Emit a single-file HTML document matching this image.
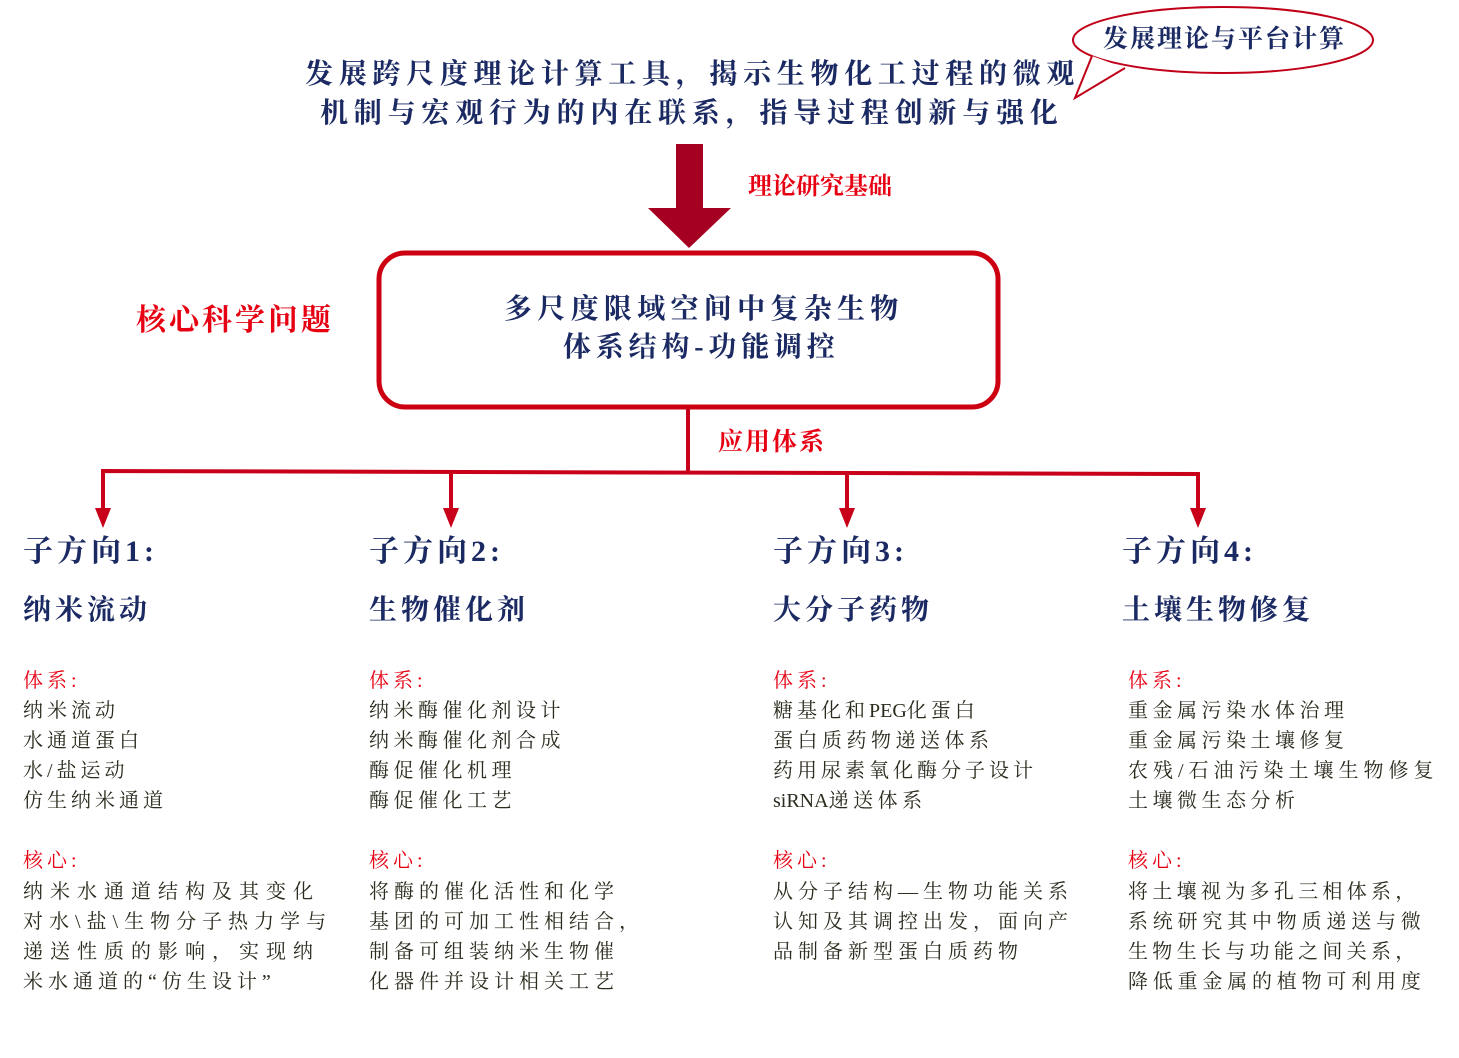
<!DOCTYPE html>
<html><head><meta charset="utf-8"><style>
body{margin:0;width:1459px;height:1058px;background:#fff;position:relative;overflow:hidden;font-family:"Liberation Serif","Noto Serif CJK SC",serif}
.t{position:absolute;white-space:nowrap;line-height:1}
.nv{color:#1b2a63;font-weight:bold}
.rd{color:#e60012}
.tx{color:#2b2b1e;font-size:20px}
.l{letter-spacing:0}
</style></head><body>
<svg width="1459" height="1058" style="position:absolute;left:0;top:0">
<ellipse cx="1223" cy="40" rx="150" ry="33" fill="#fff" stroke="#c00018" stroke-width="2"/>
<polygon points="1092,56 1075,98 1125,68" fill="#fff"/>
<polyline points="1092,56 1075,98 1125,68" fill="none" stroke="#c00018" stroke-width="2"/>
<rect x="676" y="144" width="27" height="66" fill="#a50021"/>
<polygon points="648,208 731,208 689,248" fill="#a50021"/>
<rect x="379" y="253" width="619" height="154" rx="26" fill="none" stroke="#cc0010" stroke-width="5"/>
<g stroke="#c8001a" stroke-width="4" fill="none">
<line x1="688" y1="408" x2="688" y2="471"/>
<polyline points="103,510 103,471 1198,474 1198,510"/>
<line x1="451" y1="472" x2="451" y2="510"/>
<line x1="847" y1="473" x2="847" y2="510"/>
</g>
<g fill="#c8001a">
<polygon points="95,508 111,508 103,528"/>
<polygon points="443,508 459,508 451,528"/>
<polygon points="839,508 855,508 847,528"/>
<polygon points="1190,508 1206,508 1198,528"/>
</g>
</svg>
<div class="t nv" style="left:1103px;top:27px;font-size:25px;letter-spacing:2px">发展理论与平台计算</div>
<div class="t nv" style="left:305px;top:61px;font-size:28px;letter-spacing:5.7px">发展跨尺度理论计算工具，揭示生物化工过程的微观</div>
<div class="t nv" style="left:320px;top:100px;font-size:28px;letter-spacing:5.8px">机制与宏观行为的内在联系，指导过程创新与强化</div>
<div class="t rd" style="left:748px;top:175px;font-size:24px;font-weight:bold">理论研究基础</div>
<div class="t rd" style="left:136px;top:306px;font-size:30px;font-weight:bold;letter-spacing:3px">核心科学问题</div>
<div class="t nv" style="left:504px;top:296px;font-size:28px;letter-spacing:5.3px">多尺度限域空间中复杂生物</div>
<div class="t nv" style="left:563px;top:334px;font-size:28px;letter-spacing:4.8px">体系结构-功能调控</div>
<div class="t rd" style="left:718px;top:430px;font-size:25px;font-weight:bold;letter-spacing:2px">应用体系</div>

<div class="t nv" style="left:23px;top:537px;font-size:30px;letter-spacing:4px">子方向1:</div>
<div class="t nv" style="left:23px;top:597px;font-size:28px;letter-spacing:4px">纳米流动</div>
<div class="t rd" style="left:23px;top:671px;font-size:20px;letter-spacing:4px">体系:</div>
<div class="t tx" style="left:23px;top:701px;letter-spacing:4px">纳米流动</div>
<div class="t tx" style="left:23px;top:731px;letter-spacing:4px">水通道蛋白</div>
<div class="t tx" style="left:23px;top:761px;letter-spacing:4px">水/盐运动</div>
<div class="t tx" style="left:23px;top:791px;letter-spacing:4px">仿生纳米通道</div>
<div class="t rd" style="left:23px;top:851px;font-size:20px;letter-spacing:4px">核心:</div>
<div class="t tx" style="left:23px;top:882px;letter-spacing:7px">纳米水通道结构及其变化</div>
<div class="t tx" style="left:23px;top:912px;letter-spacing:6px">对水\盐\生物分子热力学与</div>
<div class="t tx" style="left:23px;top:942px;letter-spacing:7px">递送性质的影响，实现纳</div>
<div class="t tx" style="left:23px;top:972px;letter-spacing:5px">米水通道的“仿生设计”</div>

<div class="t nv" style="left:369px;top:537px;font-size:30px;letter-spacing:4px">子方向2:</div>
<div class="t nv" style="left:369px;top:597px;font-size:28px;letter-spacing:4px">生物催化剂</div>
<div class="t rd" style="left:369px;top:671px;font-size:20px;letter-spacing:4px">体系:</div>
<div class="t tx" style="left:369px;top:701px;letter-spacing:4.5px">纳米酶催化剂设计</div>
<div class="t tx" style="left:369px;top:731px;letter-spacing:4.5px">纳米酶催化剂合成</div>
<div class="t tx" style="left:369px;top:761px;letter-spacing:4.5px">酶促催化机理</div>
<div class="t tx" style="left:369px;top:791px;letter-spacing:4.5px">酶促催化工艺</div>
<div class="t rd" style="left:369px;top:851px;font-size:20px;letter-spacing:4px">核心:</div>
<div class="t tx" style="left:369px;top:882px;letter-spacing:5px">将酶的催化活性和化学</div>
<div class="t tx" style="left:369px;top:912px;letter-spacing:5px">基团的可加工性相结合，</div>
<div class="t tx" style="left:369px;top:942px;letter-spacing:5px">制备可组装纳米生物催</div>
<div class="t tx" style="left:369px;top:972px;letter-spacing:5px">化器件并设计相关工艺</div>

<div class="t nv" style="left:773px;top:537px;font-size:30px;letter-spacing:4px">子方向3:</div>
<div class="t nv" style="left:773px;top:597px;font-size:28px;letter-spacing:4px">大分子药物</div>
<div class="t rd" style="left:773px;top:671px;font-size:20px;letter-spacing:4px">体系:</div>
<div class="t tx" style="left:773px;top:701px;letter-spacing:4px">糖基化和<span class="l">PEG</span>化蛋白</div>
<div class="t tx" style="left:773px;top:731px;letter-spacing:4.5px">蛋白质药物递送体系</div>
<div class="t tx" style="left:773px;top:761px;letter-spacing:4px">药用尿素氧化酶分子设计</div>
<div class="t tx" style="left:773px;top:791px;letter-spacing:4.5px"><span class="l">siRNA</span>递送体系</div>
<div class="t rd" style="left:773px;top:851px;font-size:20px;letter-spacing:4px">核心:</div>
<div class="t tx" style="left:773px;top:882px;letter-spacing:5px">从分子结构—生物功能关系</div>
<div class="t tx" style="left:773px;top:912px;letter-spacing:5px">认知及其调控出发，面向产</div>
<div class="t tx" style="left:773px;top:942px;letter-spacing:5px">品制备新型蛋白质药物</div>

<div class="t nv" style="left:1122px;top:537px;font-size:30px;letter-spacing:4px">子方向4:</div>
<div class="t nv" style="left:1122px;top:597px;font-size:28px;letter-spacing:4px">土壤生物修复</div>
<div class="t rd" style="left:1128px;top:671px;font-size:20px;letter-spacing:4px">体系:</div>
<div class="t tx" style="left:1128px;top:701px;letter-spacing:4.5px">重金属污染水体治理</div>
<div class="t tx" style="left:1128px;top:731px;letter-spacing:4.5px">重金属污染土壤修复</div>
<div class="t tx" style="left:1128px;top:761px;letter-spacing:5px">农残/石油污染土壤生物修复</div>
<div class="t tx" style="left:1128px;top:791px;letter-spacing:4.5px">土壤微生态分析</div>
<div class="t rd" style="left:1128px;top:851px;font-size:20px;letter-spacing:4px">核心:</div>
<div class="t tx" style="left:1128px;top:882px;letter-spacing:4.3px">将土壤视为多孔三相体系，</div>
<div class="t tx" style="left:1128px;top:912px;letter-spacing:4.8px">系统研究其中物质递送与微</div>
<div class="t tx" style="left:1128px;top:942px;letter-spacing:4.3px">生物生长与功能之间关系，</div>
<div class="t tx" style="left:1128px;top:972px;letter-spacing:4.8px">降低重金属的植物可利用度</div>
</body></html>
